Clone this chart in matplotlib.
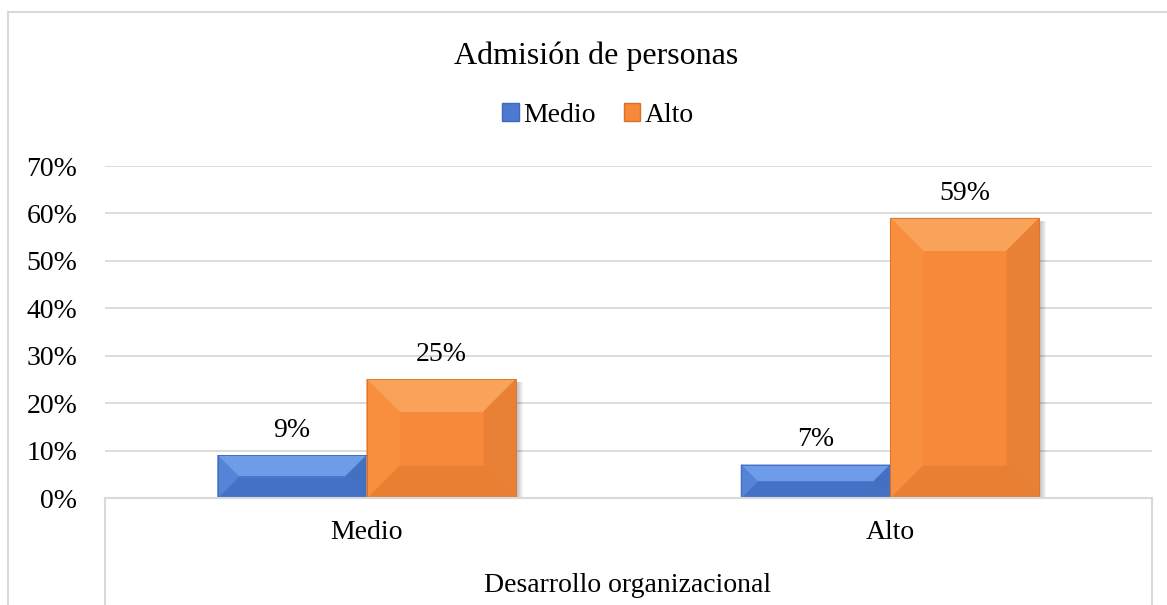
import matplotlib
matplotlib.use('Agg')
import matplotlib.pyplot as plt
from matplotlib.patches import Polygon, Patch, Rectangle
from matplotlib.lines import Line2D
import numpy as np

# data
categories = ['Medio', 'Alto']
series_names = ['Medio', 'Alto']
medio_vals = [0.09, 0.07]
alto_vals = [0.25, 0.59]
yticks = [0.0, 0.1, 0.2, 0.3, 0.4, 0.5, 0.6, 0.7]
title = 'Admisión de personas'
xlabel = 'Desarrollo organizacional'

plt.rcParams['font.family'] = ['Liberation Serif', 'DejaVu Serif']

# face, top, left, right, bottom shades for the bevelled bars
blue = dict(face='#4B7AD0', top='#6E9CE8', left='#5584D6', right='#4470C2', bottom='#4471C3', edge='#4169B5')
orange = dict(face='#F6893A', top='#F9A35A', left='#F78F3F', right='#E88035', bottom='#E97F33', edge='#D97228')
grid_c = '#D9D9D9'

W, H = 1167, 605
fig = plt.figure(figsize=(W / 100, H / 100), dpi=100)
ax = fig.add_axes([105 / W, 107 / H, 1047 / W, 332 / H])

x = np.arange(len(categories)) + 0.5
bw = 0.285
b1 = ax.bar(x - bw / 2, medio_vals, bw, color=blue['face'], zorder=3, label=series_names[0])
b2 = ax.bar(x + bw / 2, alto_vals, bw, color=orange['face'], zorder=3, label=series_names[1])

ax.set_xlim(0, 2)
ax.set_ylim(0, 0.7)
ax.set_yticks(yticks)
ax.set_yticklabels([f'{int(round(t * 100))}%' for t in yticks], fontsize=20)
ax.set_xticks([])
ax.tick_params(axis='y', length=0, pad=20)
for s in ax.spines.values():
    s.set_visible(False)
ax.yaxis.grid(True, color=grid_c, lw=1.3, zorder=0)
ax.set_axisbelow(True)

inv = ax.transData.inverted()


def bevel(bars, col):
    for p in bars:
        x0, y0 = p.get_x(), p.get_y()
        x1, y1 = x0 + p.get_width(), y0 + p.get_height()
        (px0, py0), (px1, py1) = ax.transData.transform([(x0, y0), (x1, y1)])
        b = min(33, (px1 - px0) / 2, (py1 - py0) / 2)
        # soft drop shadow on the right
        for k in range(7):
            sh = inv.transform([(px1, py0), (px1 + 1 + k, py1 - 3)])
            ax.add_patch(Rectangle(sh[0], sh[1][0] - sh[0][0], sh[1][1] - sh[0][1],
                                   color='black', alpha=0.04, lw=0, zorder=2))
        o = [(px0, py1), (px1, py1), (px1, py0), (px0, py0)]
        i = [(px0 + b, py1 - b), (px1 - b, py1 - b), (px1 - b, py0 + b), (px0 + b, py0 + b)]
        polys = [([o[0], o[1], i[1], i[0]], col['top']),
                 ([o[1], o[2], i[2], i[1]], col['right']),
                 ([o[2], o[3], i[3], i[2]], col['bottom']),
                 ([o[3], o[0], i[0], i[3]], col['left'])]
        for pts, c in polys:
            ax.add_patch(Polygon(inv.transform(pts), closed=True, facecolor=c,
                                 edgecolor=c, lw=0.5, zorder=4))
        ax.add_patch(Polygon(inv.transform(i), closed=True, facecolor=col['face'],
                             edgecolor=col['face'], lw=0.5, zorder=4))
        ax.add_patch(Rectangle((x0, y0), x1 - x0, y1 - y0, fill=False,
                               edgecolor=col['edge'], lw=0.6, zorder=5))


bevel(b1, blue)
bevel(b2, orange)

ax.bar_label(b1, labels=[f'{int(round(v * 100))}%' for v in medio_vals], padding=9, fontsize=20)
ax.bar_label(b2, labels=[f'{int(round(v * 100))}%' for v in alto_vals], padding=9, fontsize=20)

# category labels and axis title inside the table-like box below the axis
for xi, c in zip(x, categories):
    ax.text(xi, -0.072, c, ha='center', va='center', fontsize=20, transform=ax.transData, clip_on=False)
fig.text(628 / W, 1 - 586 / H, xlabel, ha='center', va='center', fontsize=20)

# axis box lines
fig.add_artist(Line2D([105 / W, 1152 / W], [107 / H, 107 / H], color=grid_c, lw=1.5))
fig.add_artist(Line2D([105 / W, 105 / W], [0, 107 / H], color=grid_c, lw=1.5))
fig.add_artist(Line2D([1152 / W, 1152 / W], [0, 107 / H], color=grid_c, lw=1.5))

# outer chart border (cropped on right and bottom)
fig.add_artist(Line2D([8 / W, 8 / W], [0, 1 - 12 / H], color=grid_c, lw=1.5))
fig.add_artist(Line2D([8 / W, 1], [1 - 12 / H, 1 - 12 / H], color=grid_c, lw=1.5))

fig.text(596 / W, 1 - 56 / H, title, ha='center', va='center', fontsize=23)

handles = [Patch(facecolor=blue['face'], edgecolor=blue['edge']),
           Patch(facecolor=orange['face'], edgecolor=orange['edge'])]
fig.legend(handles, series_names, loc='center', bbox_to_anchor=(598 / W, 1 - 115 / H), ncol=2,
           frameon=False, fontsize=20, handlelength=0.6, handleheight=0.6, handletextpad=0.15,
           columnspacing=1.0, borderaxespad=0)

fig.savefig('out.png', dpi=100, facecolor='white')
